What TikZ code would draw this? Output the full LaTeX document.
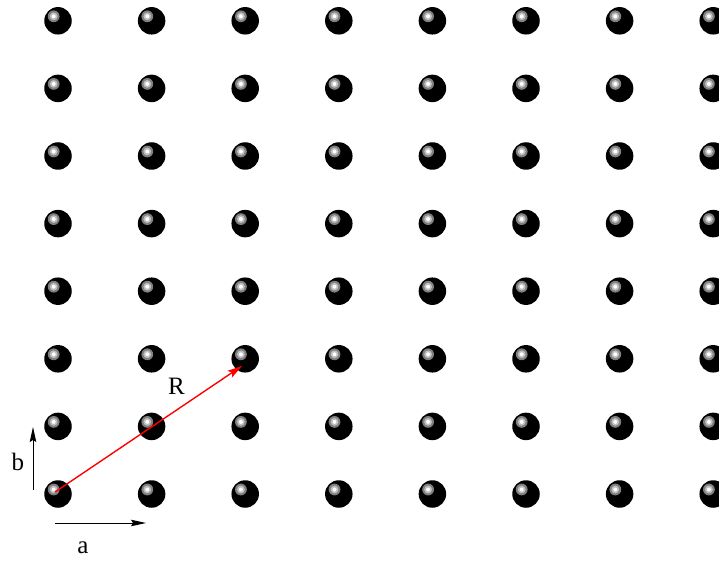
\documentclass[tikz,border=0pt]{standalone}
\usepackage{fontspec}
\setmainfont{Liberation Serif}
\usetikzlibrary{arrows.meta,calc}
\begin{document}
\begin{tikzpicture}[x=1pt,y=1pt,
  ball/.style={circle,fill=black,minimum size=27.5pt,inner sep=0pt,
    path picture={
      \fill[black!50] ($(path picture bounding box.center)+(-4.3pt,4.5pt)$) circle (5.9pt);
      \fill[black!25] ($(path picture bounding box.center)+(-4.3pt,4.5pt)$) circle (3.9pt);
      \fill[white] ($(path picture bounding box.center)+(-4.3pt,4.5pt)$) circle (2.0pt);
    }},
  lbl/.style={font=\fontsize{25}{30}\selectfont, inner sep=0pt},
  vecarrow/.style={line width=1pt,-{Stealth[length=15pt,width=6.5pt,inset=2pt]}},
  rarrow/.style={red,line width=1.4pt,-{Stealth[length=15pt,width=8pt,inset=3pt]}}]
\useasboundingbox (0,0) rectangle (719,560);
\clip (0,0) rectangle (719,560);
\foreach \i in {0,...,7}{
  \foreach \j in {0,...,7}{
    \node[ball] (b-\i-\j) at ({58+93.6*\i},{66+67.6*\j}) {};
  }
}
% lattice vector R
\draw[rarrow] ($(b-0-0)+(-3,2)$) -- ($(b-2-2)+(-3,-7)$);
\node[lbl] (lR) at (176.5,173.7) {R};
% basis vectors
\coordinate (bs) at (33,70);
\coordinate (be) at (33,133);
\draw[vecarrow] (bs) -- (be);
\node[lbl] (lb) at (18,98) {b};
\coordinate (as) at (55,37);
\coordinate (ae) at (146,37);
\draw[vecarrow] (as) -- (ae);
\node[lbl] (la) at (83,12) {a};
\end{tikzpicture}
\end{document}
